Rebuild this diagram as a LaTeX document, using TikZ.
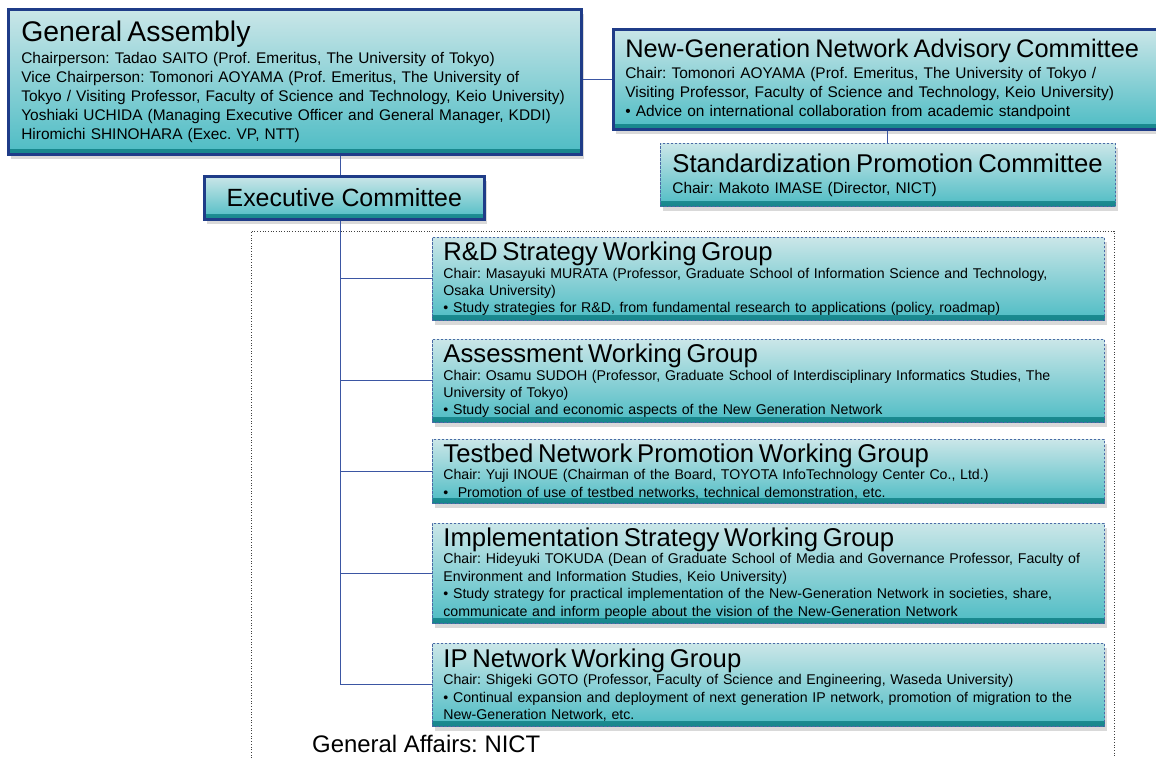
\documentclass[tikz,border=0pt]{standalone}
\usepackage{fontspec}
\setmainfont{Liberation Sans}
\usepackage{tikz}
\usetikzlibrary{shadows}
\usetikzlibrary{positioning}
\frenchspacing

\definecolor{boxtop}{HTML}{CAE6E8}
\definecolor{boxbot}{HTML}{4DBCC4}
\definecolor{stripe}{HTML}{17868C}
\definecolor{navyline}{HTML}{1F3C88}
\definecolor{dashline}{HTML}{4A6AA6}
\definecolor{linkline}{HTML}{3B56A3}

\newcommand{\subfont}{\fontsize{14.2}{17.5}\selectfont}
\newcommand{\bigsubfont}{\fontsize{15.5}{19}\selectfont}
\newcommand{\boxtitle}[2][25.8]{{\fontsize{#1}{#1}\selectfont #2\par}}

\tikzset{
	orgbox/.style={anchor=north west, rectangle, top color=boxtop, bottom color=boxbot,
		draw=navyline, line width=2.6bp, inner xsep=12bp, inner ysep=0pt, align=left,
		drop shadow={shadow xshift=3bp, shadow yshift=-5bp, opacity=0.3},
		path picture={\shade[top color=boxbot, bottom color=stripe]
			(path picture bounding box.south west) rectangle ([yshift=4.5bp]path picture bounding box.south east);}},
	wgbox/.style={orgbox, draw=dashline, line width=0.8bp, dash pattern=on 2.5bp off 1.5bp,
		inner xsep=11bp, text width=650bp, minimum width=672bp, font=\subfont},
	link/.style={draw=linkline, line width=1bp},
}

\begin{document}
\begin{tikzpicture}[x=1bp, y=-1bp]
	\useasboundingbox (0,0) rectangle (1156,758);
	% frame round the working groups
	\draw[dotted, black!75, line width=0.7bp] (251,758) |- (1114,231) -- (1114,758);
	%
	\node[orgbox, inner xsep=13bp, text width=547bp, minimum width=573bp, minimum height=145bp, font=\bigsubfont] (assembly) at (7,8) {%
		\boxtitle[28.5]{General Assembly}\vspace{3bp}
		Chairperson: Tadao SAITO (Prof. Emeritus, The University of Tokyo)\\
		Vice Chairperson: Tomonori AOYAMA (Prof. Emeritus, The University of\\
		Tokyo / Visiting Professor, Faculty of Science and Technology, Keio University)\\
		Yoshiaki UCHIDA (Managing Executive Officer and General Manager, KDDI)\\
		Hiromichi SHINOHARA (Exec. VP, NTT)};
	\node[orgbox, align=center, minimum width=280bp, minimum height=43bp, font=\fontsize{25}{27}\selectfont] (executive) at (203,175) {Executive Committee};
	\coordinate (spine) at ([xshift=-4bp]executive.south);
	\node[orgbox, text width=522bp, minimum width=546bp, minimum height=100bp, font=\bigsubfont] (advisory) at (612,28) {%
		\boxtitle[25.5]{New-Generation Network Advisory Committee}\vspace{2bp}
		Chair: Tomonori AOYAMA (Prof. Emeritus, The University of Tokyo /\\
		Visiting Professor, Faculty of Science and Technology, Keio University)\\
		\textbullet{} Advice on international collaboration from academic standpoint};
	\node[wgbox, text width=431bp, minimum width=455bp, minimum height=63bp, font=\bigsubfont] (standard) at (660,143) {%
		\boxtitle{Standardization Promotion Committee}\vspace{2bp}
		Chair: Makoto IMASE (Director, NICT)};
	%
	\node[wgbox, minimum height=83bp] (strategy) at (432,237) {%
		\boxtitle{R\&D Strategy Working Group}
		Chair: Masayuki MURATA (Professor, Graduate School of Information Science and Technology,\\
		Osaka University)\\
		\textbullet{} Study strategies for R\&D, from fundamental research to applications (policy, roadmap)};
	\node[wgbox, minimum height=83bp] (assessment) at (432,339) {%
		\boxtitle{Assessment Working Group}
		Chair: Osamu SUDOH (Professor, Graduate School of Interdisciplinary Informatics Studies, The\\
		University of Tokyo)\\
		\textbullet{} Study social and economic aspects of the New Generation Network};
	\node[wgbox, minimum height=64bp] (testbed) at (432,439) {%
		\boxtitle{Testbed Network Promotion Working Group}
		Chair: Yuji INOUE (Chairman of the Board, TOYOTA InfoTechnology Center Co., Ltd.)\\
		\textbullet{}\ \ Promotion of use of testbed networks, technical demonstration, etc.};
	\node[wgbox, minimum height=100bp] (implement) at (432,523) {%
		\boxtitle{Implementation Strategy Working Group}
		Chair: Hideyuki TOKUDA (Dean of Graduate School of Media and Governance Professor, Faculty of\\
		Environment and Information Studies, Keio University)\\
		\textbullet{} Study strategy for practical implementation of the New-Generation Network in societies, share,\\
		communicate and inform people about the vision of the New-Generation Network};
	\node[wgbox, minimum height=83bp] (ipnet) at (432,643) {%
		\boxtitle{IP Network Working Group}
		Chair: Shigeki GOTO (Professor, Faculty of Science and Engineering, Waseda University)\\
		\textbullet{} Continual expansion and deployment of next generation IP network, promotion of migration to the\\
		New-Generation Network, etc.};
	%
	\node[anchor=west, inner sep=0pt, font=\fontsize{24}{26}\selectfont] (affairs) at (312,744) {General Affairs: NICT};
	% connectors
	\draw[link] (assembly.south -| spine) -- (executive.north -| spine);
	\draw[link] (assembly.east |- advisory.west) -- (advisory.west);
	\draw[link] (advisory.south -| standard.north) -- (standard.north);
	\draw[link] (spine) -- (spine |- ipnet.west);
	\foreach \wg in {strategy, assessment, testbed, implement, ipnet}
		\draw[link] (spine |- \wg.west) -- (\wg.west);
\end{tikzpicture}
\end{document}
